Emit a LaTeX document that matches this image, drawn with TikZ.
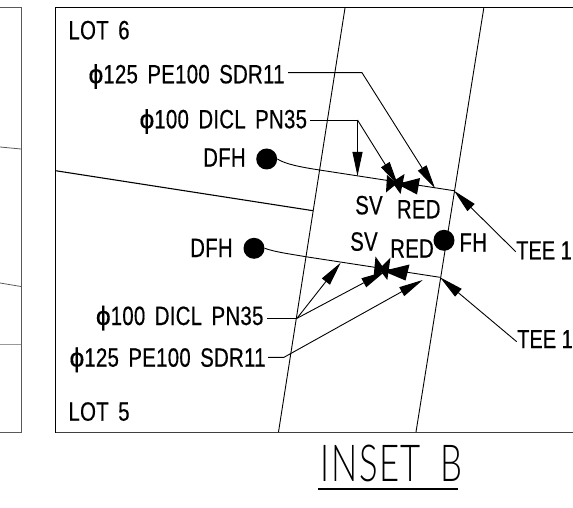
\documentclass[tikz,border=0pt]{standalone}
\usepackage{fontspec}
\setmainfont[FakeStretch=0.77,FakeBold=0.4,WordSpace=1.6,LetterSpace=1]{Liberation Sans}
\newfontfamily\teefont[FakeStretch=0.77,FakeBold=0.4]{Liberation Sans}
\newfontfamily\phifont[FakeBold=0.4]{Liberation Sans}
\newfontfamily\insetfont[FakeStretch=0.68,LetterSpace=3,WordSpace=1.8]{Lato Light}
\newcommand{\dia}{{\phifont ϕ}}
\usetikzlibrary{arrows.meta}
\tikzset{
  lbl/.style={anchor=base west,inner sep=0pt,font=\fontsize{26.5}{30}\selectfont},
  wire/.style={line width=0.9pt},
  lead/.style={line width=0.9pt,-{Triangle[length=24pt,width=10pt]}},
  hydrant/.style={circle,fill=black,inner sep=0pt,minimum size=21pt}
}
\begin{document}
\begin{tikzpicture}[x=1pt,y=-1pt]
  \useasboundingbox (0,0) rectangle (573,508);

  \draw[line width=1pt,black!65] (0,8) -- (21,8) -- (21,432.5) -- (0,432.5);
  \draw[line width=0.8pt,black!65] (0,147) -- (21,149);
  \draw[line width=0.8pt,black!65] (0,283) -- (21,286.5);
  \draw[line width=0.8pt,black!40] (0,344.7) -- (21,344.7);

  \draw[line width=1pt] (573,8) -- (55.5,8) -- (55.5,432.5);
  \draw[line width=1pt,black!75] (55.5,432.5) -- (573,432.5);

  \draw[wire] (345,8) -- (278.5,432);
  \draw[wire] (483.8,8) -- (416,432);
  \draw[line width=1.1pt] (55.5,170.7) -- (313,210.7);

  \node[hydrant] (dfhtopdot) at (266.7,159) {};
  \node[hydrant] (dfhbotdot) at (254,248.3) {};
  \node[hydrant] (fhdot) at (444,240.3) {};

  \node[lbl] (lot6) at (68.3,39.3) {LOT 6};
  \node[lbl] (pe125top) at (88.3,83.3) {\dia125 PE100 SDR11};
  \node[lbl] (dicltop) at (139.3,128.3) {\dia100 DICL PN35};
  \node[lbl] (dfhtop) at (203,166.7) {DFH};
  \node[lbl] (dfhbot) at (190,257) {DFH};
  \node[lbl] (diclbot) at (95.7,325) {\dia100 DICL PN35};
  \node[lbl] (pe125bot) at (69.3,366.7) {\dia125 PE100 SDR11};
  \node[lbl] (lot5) at (68.3,420.7) {LOT 5};
  \node[lbl] (svtop) at (355,214.3) {SV};
  \node[lbl] (redtop) at (396.7,218.3) {RED};
  \node[lbl] (svbot) at (350,250.7) {SV};
  \node[lbl] (redbot) at (390,257.7) {RED};
  \node[lbl] (fh) at (459.3,251.7) {FH};
  \node[lbl,font=\teefont\fontsize{26}{30}\selectfont] (teetop) at (516,259.3) {TEE 1};
  \node[lbl,font=\teefont\fontsize{26}{30}\selectfont] (teebot) at (517,348) {TEE 1};
  \node[anchor=base west,inner sep=0pt,font=\insetfont\fontsize{51}{60}\selectfont] (inset) at (320.7,481.7) {INSET B};
  \draw[line width=2pt] (318,489) -- (458,489);

  \coordinate (teetopend) at (454,190.7);
  \coordinate (teebotend) at (440,277.3);
  \draw[wire] (dfhtopdot.east) .. controls (285,164) and (300,167) .. (319.5,170) -- (teetopend);
  \draw[wire] (dfhbotdot.east) .. controls (275,252) and (290,254) .. (305.7,256.7) -- (teebotend);

  \coordinate (teetopleader) at (515.7,251.7);
  \coordinate (teebotleader) at (516.7,341.7);
  \draw[lead] (teetopleader) -- (teetopend);
  \draw[lead] (teebotleader) -- (teebotend);

  \coordinate (pe125topa) at (288,72.7);
  \coordinate (pe125topb) at (362,72.7);
  \coordinate (pe125toptip) at (435,188.3);
  \draw[lead] (pe125topa) -- (pe125topb) -- (pe125toptip);

  \coordinate (dicltopa) at (310,120);
  \coordinate (dicltopb) at (357.5,120);
  \coordinate (dicltoptipa) at (357.5,176);
  \coordinate (dicltoptipb) at (398,185);
  \draw[wire] (dicltopa) -- (dicltopb);
  \draw[lead] (dicltopb) -- (dicltoptipa);
  \draw[lead] (dicltopb) -- (dicltoptipb);

  \coordinate (diclbota) at (267,318.3);
  \coordinate (diclbotb) at (297,318.3);
  \coordinate (diclbottipa) at (340.7,262.7);
  \coordinate (diclbottipb) at (385,271.5);
  \draw[wire] (diclbota) -- (diclbotb);
  \draw[lead] (diclbotb) -- (diclbottipa);
  \draw[lead] (diclbotb) -- (diclbottipb);

  \coordinate (pe125bota) at (268,357.3);
  \coordinate (pe125botb) at (284,357.3);
  \coordinate (pe125bottip) at (422.7,280);
  \draw[lead] (pe125bota) -- (pe125botb) -- (pe125bottip);

  \fill (387,175) -- (386,192.5) -- (397,183.5) -- cycle;
  \fill (404.5,174) -- (400.5,194) -- (392,182) -- cycle;
  \fill (397,184) -- (420,178) -- (417,194.5) -- cycle;

  \fill (375.5,256.5) -- (373.5,277.5) -- (385,270) -- cycle;
  \fill (390.5,257.5) -- (387.3,280) -- (379,269) -- cycle;
  \fill (383,271) -- (409.5,264.5) -- (405.5,280.5) -- cycle;
\end{tikzpicture}
\end{document}
